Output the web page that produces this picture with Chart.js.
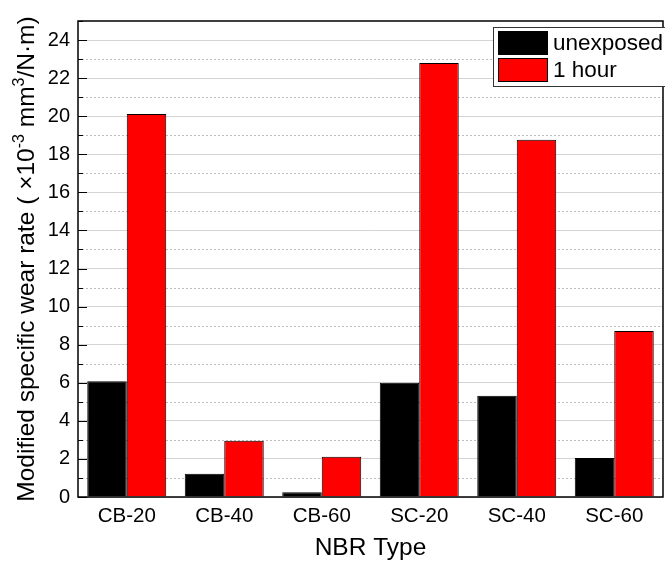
<!DOCTYPE html>
<html>
<head>
<meta charset="utf-8">
<script src="https://cdn.jsdelivr.net/npm/chart.js@4/dist/chart.umd.min.js"></script>
<style>
  html, body { margin: 0; padding: 0; background: #fff; }
  #wrap { width: 665px; height: 565px; }
</style>
</head>
<body>
<div id="wrap"><canvas id="chart" width="665" height="565"></canvas></div>
<script>
const categories = ["CB-20", "CB-40", "CB-60", "SC-20", "SC-40", "SC-60"];
const unexposed = [6.08, 1.22, 0.25, 6.0, 5.32, 2.05];
const oneHour = [20.12, 2.95, 2.12, 22.8, 18.76, 8.72];
const seriesNames = ["unexposed", "1 hour"];
const yMin = 0;
const yMax = 25;
// y title pieces: [text, superscript?]
const yTitleParts = [
    ["Modified specific wear rate ( \u00D710", false],
    ["-3", true],
    [" mm", false],
    ["3", true],
    ["/N\u00B7m)", false],
];

const FONT = "'Liberation Sans', Arial, sans-serif";

// frame, inward ticks, dotted minor grid, y title and legend box
const framePlugin = {
    id: "frame",
    beforeDatasetsDraw(chart) {
        const { ctx, chartArea: a, scales } = chart;
        const y = scales.y;
        ctx.save();
        ctx.strokeStyle = "#bdbdbd";
        ctx.lineWidth = 1;
        ctx.setLineDash([2, 2]);
        for (let v = yMin + 1; v < yMax; v += 2) {
            const py = Math.round(y.getPixelForValue(v)) + 0.5;
            ctx.beginPath();
            ctx.moveTo(a.left, py);
            ctx.lineTo(a.right, py);
            ctx.stroke();
        }
        ctx.restore();
    },
    afterDraw(chart) {
        const { ctx, chartArea: a, scales } = chart;
        const y = scales.y;
        ctx.save();
        ctx.strokeStyle = "#000";
        ctx.lineWidth = 1.5;
        ctx.strokeRect(a.left, a.top, a.right - a.left, a.bottom - a.top);

        ctx.lineWidth = 1;
        for (let v = yMin; v <= yMax; v++) {
            const py = Math.round(y.getPixelForValue(v)) + 0.5;
            const len = v % 2 === 0 ? 9 : 5;
            ctx.beginPath();
            ctx.moveTo(a.left, py);
            ctx.lineTo(a.left + len, py);
            ctx.stroke();
        }

        // y title with real superscripts
        const mainFont = "24.5px " + FONT;
        const supFont = "16px " + FONT;
        let total = 0;
        yTitleParts.forEach(([t, sup]) => {
            ctx.font = sup ? supFont : mainFont;
            total += ctx.measureText(t).width;
        });
        ctx.translate(34, (a.top + a.bottom) / 2);
        ctx.rotate(-Math.PI / 2);
        ctx.fillStyle = "#000";
        ctx.textBaseline = "alphabetic";
        ctx.textAlign = "left";
        let x = -total / 2;
        yTitleParts.forEach(([t, sup]) => {
            ctx.font = sup ? supFont : mainFont;
            ctx.fillText(t, x, sup ? -10 : 0);
            x += ctx.measureText(t).width;
        });
        ctx.setTransform(1, 0, 0, 1, 0, 0);

        // legend
        const lx = 493, ly = 27, lw = 175, lh = 59;
        ctx.fillStyle = "#fff";
        ctx.fillRect(lx, ly, lw, lh);
        ctx.strokeStyle = "#333";
        ctx.lineWidth = 1;
        ctx.strokeRect(lx + 0.5, ly + 0.5, lw, lh);
        ctx.font = "22.5px " + FONT;
        ctx.textBaseline = "middle";
        ctx.textAlign = "left";
        chart.data.datasets.forEach((ds, i) => {
            const sy = ly + 4 + i * 27;
            ctx.fillStyle = ds.backgroundColor;
            ctx.fillRect(lx + 5, sy, 50, 24);
            ctx.strokeStyle = "#000";
            ctx.strokeRect(lx + 5.5, sy + 0.5, 49, 23);
            ctx.fillStyle = "#000";
            ctx.fillText(ds.label, lx + 60, sy + 13);
        });
        ctx.restore();
    }
};

new Chart(document.getElementById("chart").getContext("2d"), {
    type: "bar",
    data: {
        labels: categories,
        datasets: [
            {
                label: seriesNames[0],
                data: unexposed,
                backgroundColor: "#000000",
                borderColor: "#000000",
                borderWidth: 1,
                borderSkipped: "bottom",
            },
            {
                label: seriesNames[1],
                data: oneHour,
                backgroundColor: "#ff0000",
                borderColor: "#000000",
                borderWidth: 1,
                borderSkipped: "bottom",
            },
        ],
    },
    options: {
        responsive: false,
        animation: false,
        layout: { padding: { top: 21, right: 2, left: 0, bottom: 0 } },
        datasets: {
            bar: { categoryPercentage: 0.81, barPercentage: 1.0 },
        },
        plugins: {
            legend: { display: false },
            tooltip: { enabled: false },
        },
        scales: {
            x: {
                grid: { display: false, drawTicks: false },
                border: { display: false },
                ticks: {
                    color: "#000",
                    padding: 7,
                    font: { family: FONT, size: 20.5 },
                },
                title: {
                    display: true,
                    text: "NBR Type",
                    color: "#000",
                    padding: { top: 8, bottom: 2 },
                    font: { family: FONT, size: 24.5 },
                },
                afterFit(scale) { scale.height = 68; },
            },
            y: {
                min: yMin,
                max: yMax,
                border: { display: false },
                grid: {
                    drawTicks: false,
                    color: (c) => (c.tick && c.tick.value % 2 === 0 ? "#d4d4d4" : "rgba(0,0,0,0)"),
                    lineWidth: 1,
                },
                ticks: {
                    stepSize: 1,
                    autoSkip: false,
                    color: "#000",
                    padding: 8,
                    font: { family: FONT, size: 20 },
                    callback: (v) => (v % 2 === 0 ? String(v) : ""),
                },
                afterFit(scale) { scale.width = 78; },
            },
        },
    },
    plugins: [framePlugin],
});
</script>
</body>
</html>
